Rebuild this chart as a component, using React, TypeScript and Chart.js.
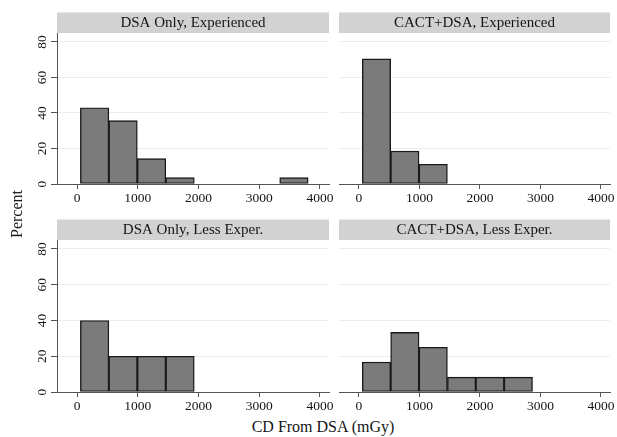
import React, { useEffect, useRef } from "react";
import { Chart, registerables } from "chart.js";

Chart.register(...registerables);

// ---- data ----
const binEdges = [55, 524, 993, 1462, 1931, 2400, 2869, 3338, 3807];
const xTickValues = [0, 1000, 2000, 3000, 4000];
const yTickValues = [0, 20, 40, 60, 80];
const dsaExperienced = [42.9, 35.7, 14.3, 3.6, 0, 0, 0, 3.6];
const cactExperienced = [70.4, 18.5, 11.1, 0, 0, 0, 0, 0];
const dsaLessExper = [40, 20, 20, 20, 0, 0, 0, 0];
const cactLessExper = [16.7, 33.3, 25, 8.3, 8.3, 8.3, 0, 0];
const panelTitles = [
  "DSA Only, Experienced",
  "CACT+DSA, Experienced",
  "DSA Only, Less Exper.",
  "CACT+DSA, Less Exper.",
];
const yAxisTitle = "Percent";
const xAxisTitle = "CD From DSA (mGy)";

const FONT = "'Liberation Serif', 'Times New Roman', serif";
const TEXT = "#151515";
const HEADER_H = 20.5;
const LEFT_SPACE = 32;
const RIGHT_SPACE = 10;
const BOTTOM_SPACE = 24;
const TOP_SPACE = 21;

const headerPlugin = {
  id: "header",
  beforeDraw(chart: any, _args: any, opts: any) {
    const { ctx, chartArea } = chart;
    ctx.save();
    ctx.fillStyle = "#d2d2d2";
    ctx.fillRect(chartArea.left, chartArea.top - HEADER_H, chartArea.right - chartArea.left, HEADER_H);
    ctx.fillStyle = TEXT;
    ctx.font = `15px ${FONT}`;
    ctx.textAlign = "center";
    ctx.textBaseline = "middle";
    ctx.fillText(opts.text, (chartArea.left + chartArea.right) / 2, chartArea.top - HEADER_H / 2 + 0.5);
    ctx.restore();
  },
};

type PanelProps = {
  title: string;
  values: number[];
  showY: boolean;
  L: number;
  T: number;
  R: number;
  B: number;
};

function Panel({ title, values, showY, L, T, R, B }: PanelProps) {
  const ref = useRef<HTMLCanvasElement | null>(null);
  const width = R - L + LEFT_SPACE + RIGHT_SPACE;
  const height = B - T + TOP_SPACE + BOTTOM_SPACE;

  useEffect(() => {
    if (!ref.current) return;
    const data = values.map((v, i) => ({ x: (binEdges[i] + binEdges[i + 1]) / 2, y: v }));
    const chart = new Chart(ref.current, {
      type: "bar",
      data: {
        datasets: [
          {
            data,
            backgroundColor: "#7b7b7b",
            borderColor: "#1a1a1a",
            borderWidth: 1.4,
            borderSkipped: false,
            barPercentage: 1,
            categoryPercentage: 1,
          } as any,
        ],
      },
      plugins: [headerPlugin],
      options: {
        responsive: false,
        animation: false,
        events: [],
        layout: { padding: { left: 0, top: TOP_SPACE, right: RIGHT_SPACE, bottom: 0 } },
        plugins: {
          legend: { display: false },
          tooltip: { enabled: false },
          header: { text: title },
        } as any,
        scales: {
          x: {
            type: "linear",
            min: -330,
            max: 4150,
            offset: false,
            afterBuildTicks: (s: any) => {
              s.ticks = xTickValues.map((v) => ({ value: v }));
            },
            afterFit: (s: any) => {
              s.height = BOTTOM_SPACE;
            },
            grid: {
              offset: false,
              drawOnChartArea: false,
              drawTicks: true,
              tickLength: 5,
              tickColor: "#555",
            },
            border: { display: true, color: "#555", width: 1 },
            ticks: {
              padding: 1,
              color: TEXT,
              font: { family: FONT, size: 13.5 },
              maxRotation: 0,
              minRotation: 0,
              callback: (v: any) => String(v),
            },
          },
          y: {
            type: "linear",
            min: 0,
            max: 85,
            afterBuildTicks: (s: any) => {
              s.ticks = yTickValues.map((v) => ({ value: v }));
            },
            afterFit: (s: any) => {
              s.width = LEFT_SPACE;
            },
            grid: {
              color: "#ececec",
              lineWidth: 1,
              drawTicks: showY,
              tickLength: 6,
              tickColor: "#555",
            },
            border: { display: showY, color: "#555", width: 1 },
            ticks: {
              display: showY,
              padding: 2,
              color: TEXT,
              crossAlign: "center",
              minRotation: 90,
              maxRotation: 90,
              font: { family: FONT, size: 13.5 },
              callback: (v: any) => String(v),
            },
          },
        },
      } as any,
    });
    return () => chart.destroy();
  }, [title, values, showY, L, T, R, B]);

  return (
    <canvas
      ref={ref}
      width={width}
      height={height}
      style={{
        position: "absolute",
        left: L - LEFT_SPACE,
        top: T - TOP_SPACE,
        width,
        height,
      }}
    />
  );
}

export default function App() {
  return (
    <div
      style={{
        position: "fixed",
        left: 0,
        top: 0,
        width: 617,
        height: 437,
        background: "#fff",
        overflow: "hidden",
      }}
    >
      <Panel title={panelTitles[0]} values={dsaExperienced} showY={true} L={57} T={33} R={329} B={184} />
      <Panel title={panelTitles[1]} values={cactExperienced} showY={false} L={339} T={33} R={610} B={184} />
      <Panel title={panelTitles[2]} values={dsaLessExper} showY={true} L={57} T={240} R={329} B={392} />
      <Panel title={panelTitles[3]} values={cactLessExper} showY={false} L={339} T={240} R={610} B={392} />
      <div
        style={{
          position: "absolute",
          left: 17,
          top: 214,
          transform: "translate(-50%, -50%) rotate(-90deg)",
          fontFamily: FONT,
          fontSize: 16,
          color: TEXT,
          whiteSpace: "nowrap",
        }}
      >
        {yAxisTitle}
      </div>
      <div
        style={{
          position: "absolute",
          left: 323,
          top: 427,
          transform: "translate(-50%, -50%)",
          fontFamily: FONT,
          fontSize: 16,
          color: TEXT,
          whiteSpace: "nowrap",
        }}
      >
        {xAxisTitle}
      </div>
    </div>
  );
}
